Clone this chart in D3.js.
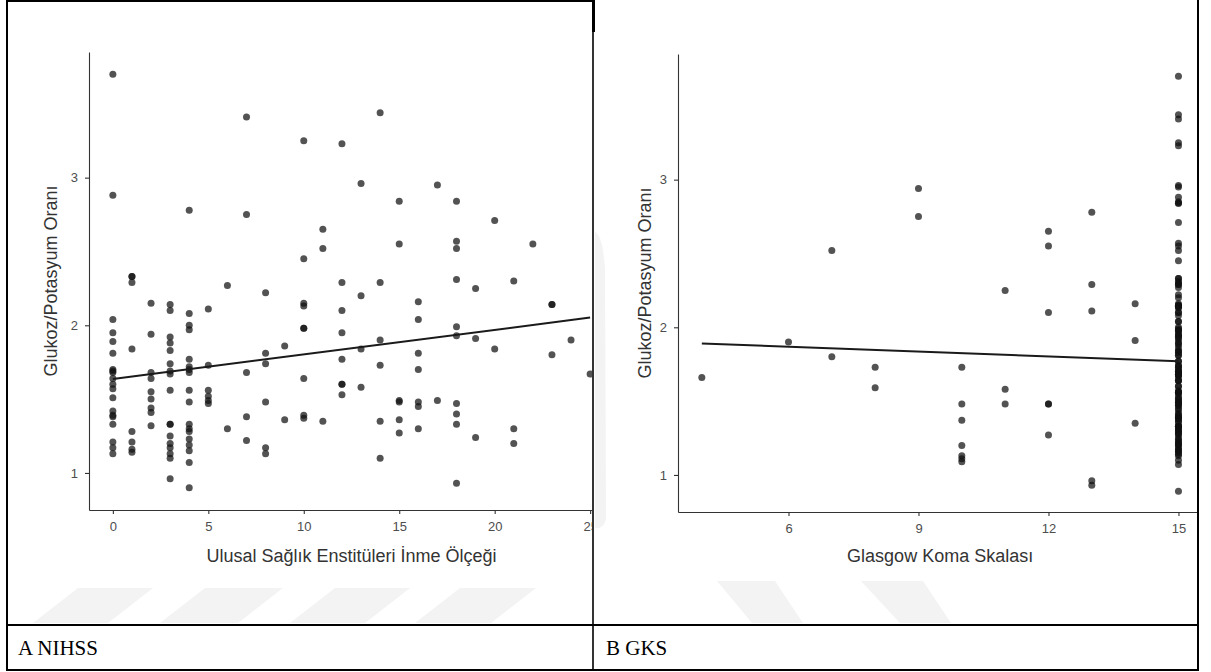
<!DOCTYPE html>
<html><head><meta charset="utf-8">
<script src="https://cdn.jsdelivr.net/npm/d3@7"></script>
<style>body{margin:0;background:#fff}svg{display:block}</style>
</head><body>
<script>
// ---------- DATA ----------
const nihssScores = [0,1,2,3,4,5,6,7,8,9,10,11,12,13,14,15,16,17,18,19,20,21,22,23,24,25];
const nihssRatios = [
  [3.70,2.88,2.04,1.95,1.89,1.81,1.70,1.69,1.68,1.64,1.60,1.57,1.51,1.42,1.39,1.38,1.33,1.21,1.17,1.13],
  [2.33,2.33,2.29,1.84,1.28,1.21,1.16,1.14],
  [2.15,1.94,1.68,1.64,1.55,1.50,1.44,1.41,1.32],
  [2.14,2.10,1.92,1.88,1.83,1.74,1.69,1.67,1.56,1.33,1.33,1.25,1.20,1.17,1.13,1.10,0.96],
  [2.78,2.08,2.00,1.97,1.77,1.72,1.70,1.68,1.56,1.48,1.33,1.30,1.28,1.23,1.19,1.15,1.07,0.90],
  [2.11,1.73,1.56,1.52,1.49,1.47],
  [2.27,1.30],
  [3.41,2.75,1.68,1.38,1.22],
  [2.22,1.81,1.74,1.48,1.17,1.13],
  [1.86,1.36],
  [3.25,2.45,2.15,2.13,1.98,1.98,1.64,1.39,1.37],
  [2.65,2.52,1.35],
  [3.23,2.29,2.10,1.95,1.77,1.60,1.60,1.53],
  [2.96,2.20,1.84,1.58],
  [3.44,2.29,1.90,1.73,1.35,1.10],
  [2.84,2.55,1.49,1.48,1.36,1.27],
  [2.16,2.04,1.81,1.70,1.48,1.45,1.30],
  [2.95,1.49],
  [2.84,2.57,2.52,2.31,1.99,1.93,1.47,1.40,1.33,0.93],
  [2.25,1.91,1.24],
  [2.71,1.84],
  [2.30,1.30,1.20],
  [2.55],
  [2.14,2.14,1.80],
  [1.90],
  [1.67]
];
const gksScores = [4,6,7,8,9,10,11,12,13,14,15];
const gksRatios = [
  [1.66],
  [1.90],
  [2.52,1.80],
  [1.73,1.59],
  [2.94,2.75],
  [1.73,1.48,1.37,1.20,1.13,1.11,1.09],
  [2.25,1.58,1.48],
  [2.65,2.55,2.10,1.48,1.48,1.27],
  [2.78,2.29,2.11,0.96,0.93],
  [2.16,1.91,1.35],
  [3.70,3.44,3.41,3.25,3.23,2.96,2.95,2.88,2.85,2.84,2.84,2.71,2.57,2.55,2.52,2.45,2.33,2.33,2.31,2.30,
   2.29,2.29,2.27,2.22,2.20,2.16,2.15,2.15,2.14,2.14,2.14,2.13,2.10,2.10,2.08,2.04,2.04,2.00,1.99,1.98,
   1.98,1.97,1.95,1.95,1.94,1.93,1.92,1.90,1.89,1.88,1.86,1.84,1.84,1.83,1.81,1.81,1.77,1.77,1.74,1.74,
   1.73,1.72,1.70,1.70,1.70,1.69,1.69,1.68,1.68,1.68,1.67,1.67,1.64,1.64,1.64,1.60,1.60,1.57,1.56,1.56,
   1.56,1.55,1.53,1.52,1.51,1.50,1.49,1.49,1.48,1.47,1.47,1.45,1.44,1.42,1.41,1.40,1.39,1.39,1.38,1.38,
   1.36,1.36,1.33,1.33,1.33,1.33,1.32,1.30,1.30,1.30,1.28,1.28,1.27,1.25,1.24,1.23,1.22,1.21,1.21,1.20,
   1.19,1.17,1.17,1.16,1.15,1.14,1.13,1.10,1.07,0.89]
];
// fitted regression lines (endpoints)
const fitA_x = [0, 25];
const fitA_y = [1.637, 2.052];
const fitB_x = [4, 15];
const fitB_y = [1.89, 1.77];
// ticks
const nihssTicks = [0,5,10,15,20,25];
const gksTicks = [6,9,12,15];
const ratioTicks = [1,2,3];
// texts
const yTitle = "Glukoz/Potasyum Oranı";
const xTitleA = "Ulusal Sağlık Enstitüleri İnme Ölçeği";
const xTitleB = "Glasgow Koma Skalası";
const captionA = "A NIHSS";
const captionB = "B GKS";

// ---------- DRAW ----------
const W = 1211, H = 672;
const SANS = '"Liberation Sans", Arial, Helvetica, sans-serif';
const SERIF = '"Liberation Serif", "Times New Roman", serif';
const svg = d3.select("body").append("svg").attr("width", W).attr("height", H);
const defs = svg.append("defs");
defs.append("clipPath").attr("id","clipA").append("rect").attr("x",8).attr("y",1).attr("width",584).attr("height",620);
defs.append("clipPath").attr("id","clipB").append("rect").attr("x",594).attr("y",0).attr("width",603).attr("height",622);

// watermark (faint)
const wm = svg.append("g").attr("fill","#f3f3f3");
[[78,153,33,108],[205,283,160,238],[335,410,290,365],[460,536,415,491]].forEach(([a,b,c,d])=>{
  wm.append("path").attr("d",`M${a},588 L${b},588 L${d},623 L${c},623 Z`);
});
[[717,775,752,803],[861,923,900,951]].forEach(([a,b,c,d])=>{
  wm.append("path").attr("d",`M${a},581 L${b},581 L${d},623 L${c},623 Z`);
});
wm.append("path").attr("d","M595,232 Q603,236 605,270 L606,520 Q602,530 595,528 Z");

function panel(opts){
  const g = svg.append("g").attr("clip-path", `url(#${opts.clip})`);
  const x = d3.scaleLinear().domain(opts.xDomain).range(opts.xRange);
  const y = d3.scaleLinear().domain(opts.yDomain).range(opts.yRange);
  const pts = [];
  opts.scores.forEach((s,i)=> opts.ratios[i].forEach(v=>pts.push([s,v])));
  g.append("g").selectAll("circle").data(pts).join("circle")
    .attr("cx", d=>x(d[0])).attr("cy", d=>y(d[1])).attr("r", 3.5)
    .attr("fill", "#111").attr("fill-opacity", 0.72);
  g.append("line")
    .attr("x1", x(opts.fitX[0])).attr("y1", y(opts.fitY[0]))
    .attr("x2", x(opts.fitX[1])).attr("y2", y(opts.fitY[1]))
    .attr("stroke", "#1a1a1a").attr("stroke-width", 2);
  const ax = g.append("g").attr("transform", `translate(0,${opts.yRange[0]})`)
    .call(d3.axisBottom(x).tickValues(opts.xTicks).tickSize(4).tickSizeOuter(0).tickPadding(8));
  const ay = g.append("g").attr("transform", `translate(${opts.xRange[0]},0)`)
    .call(d3.axisLeft(y).tickValues(ratioTicks).tickSize(4).tickSizeOuter(0).tickPadding(7).tickFormat(d3.format("d")));
  [ax, ay].forEach(a=>{
    a.select(".domain").attr("stroke","#333").attr("stroke-width",1.1);
    a.selectAll(".tick line").attr("stroke","#333").attr("stroke-width",1.1);
    a.selectAll(".tick text").attr("fill","#4d4d4d").style("font-family",SANS).style("font-size","13px");
  });
  g.append("text").attr("x", (opts.xRange[0]+opts.xRange[1])/2).attr("y", opts.xTitleY)
    .attr("text-anchor","middle").attr("fill","#333").style("font-family",SANS).style("font-size","18px")
    .text(opts.xTitle);
  g.append("text").attr("transform", `translate(${opts.yTitleX},${(opts.yRange[0]+opts.yRange[1])/2}) rotate(-90)`)
    .attr("text-anchor","middle").attr("fill","#333").style("font-family",SANS).style("font-size","18px")
    .text(yTitle);
}

panel({clip:"clipA", scores:nihssScores, ratios:nihssRatios,
  xDomain:[-1.25,26.25], xRange:[89,614], yDomain:[0.749,3.851], yRange:[510,52],
  xTicks:nihssTicks, fitX:fitA_x, fitY:fitA_y, xTitle:xTitleA, xTitleY:562, yTitleX:57});
panel({clip:"clipB", scores:gksScores, ratios:gksRatios,
  xDomain:[3.45,15.55], xRange:[678,1202.3], yDomain:[0.749,3.851], yRange:[512,54],
  xTicks:gksTicks, fitX:fitB_x, fitY:fitB_y, xTitle:xTitleB, xTitleY:562, yTitleX:651});

// table borders
const bd = svg.append("g").attr("stroke","#000").attr("fill","none");
bd.append("line").attr("x1",7).attr("y1",1).attr("x2",594).attr("y2",1).attr("stroke-width",2);
bd.append("line").attr("x1",7).attr("y1",0).attr("x2",7).attr("y2",671).attr("stroke-width",2);
bd.append("line").attr("x1",593).attr("y1",0).attr("x2",593).attr("y2",671).attr("stroke-width",1.6);
bd.append("line").attr("x1",593.5).attr("y1",0).attr("x2",593.5).attr("y2",32).attr("stroke-width",3);
bd.append("line").attr("x1",1198).attr("y1",0).attr("x2",1198).attr("y2",671).attr("stroke-width",2);
bd.append("line").attr("x1",7).attr("y1",625).attr("x2",1198).attr("y2",625).attr("stroke-width",2);
bd.append("line").attr("x1",7).attr("y1",670).attr("x2",1198).attr("y2",670).attr("stroke-width",2);

svg.append("text").attr("x",18).attr("y",655).attr("fill","#000")
  .style("font-family",SERIF).style("font-size","21px").text(captionA);
svg.append("text").attr("x",606).attr("y",655).attr("fill","#000")
  .style("font-family",SERIF).style("font-size","21px").text(captionB);
</script>
</body></html>
